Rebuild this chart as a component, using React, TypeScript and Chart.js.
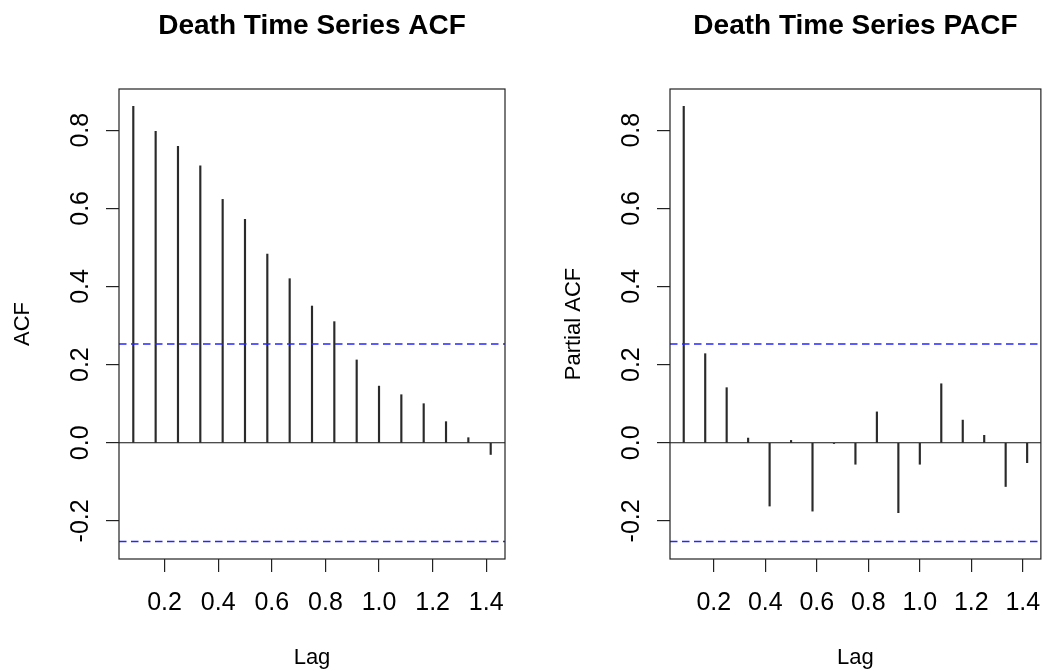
import React, { useEffect, useRef } from "react";
import { Chart, registerables } from "chart.js";

Chart.register(...registerables);

// ---- data ----
const lags = [0.0833, 0.1667, 0.25, 0.3333, 0.4167, 0.5, 0.5833, 0.6667, 0.75, 0.8333, 0.9167, 1.0, 1.0833, 1.1667, 1.25, 1.3333, 1.4167];
const acfValues = [0.861, 0.797, 0.759, 0.709, 0.623, 0.572, 0.483, 0.42, 0.35, 0.31, 0.212, 0.145, 0.123, 0.1, 0.054, 0.013, -0.03];
const pacfValues = [0.861, 0.228, 0.141, 0.012, -0.162, 0.006, -0.175, -0.002, -0.055, 0.079, -0.179, -0.055, 0.151, 0.058, 0.019, -0.112, -0.051];
const confLimit = 0.253;
const xTickValues = [0.2, 0.4, 0.6, 0.8, 1.0, 1.2, 1.4];
const yTickValues = [-0.2, 0.0, 0.2, 0.4, 0.6, 0.8];
const acfTitle = "Death Time Series ACF";
const pacfTitle = "Death Time Series PACF";
const acfYLabel = "ACF";
const pacfYLabel = "Partial ACF";
const xLabel = "Lag";

const NARROW = "'Liberation Sans Narrow', 'Liberation Sans', Arial, sans-serif";
const SANS = "'Liberation Sans', Arial, sans-serif";
const AXIS_COLOR = "#222";

function padRange(lo: number, hi: number) {
  const p = (hi - lo) * 0.04;
  return [lo - p, hi + p];
}

const boxPlugin = {
  id: "rbox",
  afterDatasetsDraw(chart: any) {
    const { ctx, chartArea } = chart;
    ctx.save();
    ctx.strokeStyle = AXIS_COLOR;
    ctx.lineWidth = 1.2;
    ctx.strokeRect(chartArea.left, chartArea.top, chartArea.right - chartArea.left, chartArea.bottom - chartArea.top);
    ctx.restore();
  },
};

function Panel(props: { left: number; width: number; values: number[]; title: string; yLabel: string; rightPad: number }) {
  const ref = useRef<HTMLCanvasElement | null>(null);
  useEffect(() => {
    const canvas = ref.current!;
    const [xMin, xMax] = padRange(Math.min(...lags), Math.max(...lags));
    const [yMin, yMax] = padRange(Math.min(-confLimit, ...props.values), Math.max(confLimit, ...props.values));
    const dashed = {
      type: "line",
      borderColor: "#2626ff",
      borderWidth: 1.5,
      borderDash: [7.5, 4.5],
      pointRadius: 0,
      order: 0,
    };
    const chart = new Chart(canvas, {
      type: "bar",
      data: {
        datasets: [
          { ...dashed, data: [{ x: xMin, y: confLimit }, { x: xMax, y: confLimit }] } as any,
          { ...dashed, data: [{ x: xMin, y: -confLimit }, { x: xMax, y: -confLimit }] } as any,
          {
            type: "line",
            data: [{ x: xMin, y: 0 }, { x: xMax, y: 0 }],
            borderColor: "#111",
            borderWidth: 1.2,
            pointRadius: 0,
            order: 1,
          } as any,
          {
            type: "bar",
            data: lags.map((x, i) => ({ x, y: props.values[i] })),
            backgroundColor: "#2a2a2a",
            borderWidth: 0,
            barThickness: 1.5,
            grouped: false,
            order: 2,
          } as any,
        ],
      },
      options: {
        animation: false,
        responsive: false,
        devicePixelRatio: 1,
        layout: { padding: { left: 0, right: props.rightPad, top: 0, bottom: 0 } },
        plugins: {
          legend: { display: false },
          tooltip: { enabled: false },
          title: {
            display: true,
            text: props.title,
            color: "#000",
            fullSize: false,
            font: { family: SANS, size: 28, weight: "bold" },
            padding: { top: 9.5, bottom: 45.9 },
          },
        },
        scales: {
          x: {
            type: "linear",
            min: xMin,
            max: xMax,
            offset: false,
            afterBuildTicks: (s: any) => {
              s.ticks = xTickValues.map((v) => ({ value: v }));
            },
            afterFit: (s: any) => {
              s.height = 110;
            },
            grid: { offset: false, drawOnChartArea: false, drawTicks: true, tickLength: 13, color: AXIS_COLOR, lineWidth: 1.2 },
            border: { display: false },
            ticks: {
              autoSkip: false,
              maxRotation: 0,
              minRotation: 0,
              padding: 16,
              color: "#000",
              font: { family: NARROW, size: 25 },
              callback: (v: any) => Number(v).toFixed(1),
            },
            title: {
              display: true,
              text: xLabel,
              color: "#000",
              font: { family: SANS, size: 22, lineHeight: 1.0 },
              padding: { top: 0, bottom: 0.5 },
            },
          },
          y: {
            type: "linear",
            min: yMin,
            max: yMax,
            beginAtZero: false,
            afterBuildTicks: (s: any) => {
              s.ticks = yTickValues.map((v) => ({ value: v }));
            },
            afterFit: (s: any) => {
              s.width = 119;
            },
            grid: { drawOnChartArea: false, drawTicks: true, tickLength: 13, color: AXIS_COLOR, lineWidth: 1.2 },
            border: { display: false },
            ticks: {
              minRotation: 90,
              maxRotation: 90,
              crossAlign: "center",
              padding: 3.5,
              color: "#000",
              font: { family: NARROW, size: 25 },
              callback: (v: any) => Number(v).toFixed(1),
            },
            title: {
              display: true,
              text: props.yLabel,
              color: "#000",
              font: { family: SANS, size: 22 },
              padding: { top: 10, bottom: 0 },
            },
          },
        },
      } as any,
      plugins: [boxPlugin],
    });
    return () => chart.destroy();
  }, []);
  return (
    <canvas
      ref={ref}
      width={props.width}
      height={669}
      style={{ position: "absolute", left: props.left, top: 0, width: props.width, height: 669 }}
    />
  );
}

export default function App() {
  return (
    <div style={{ position: "absolute", left: 0, top: 0, width: 1057, height: 669, background: "#fff", overflow: "hidden" }}>
      <Panel left={0} width={551} values={acfValues} title={acfTitle} yLabel={acfYLabel} rightPad={46} />
      <Panel left={551} width={506} values={pacfValues} title={pacfTitle} yLabel={pacfYLabel} rightPad={1} />
    </div>
  );
}
